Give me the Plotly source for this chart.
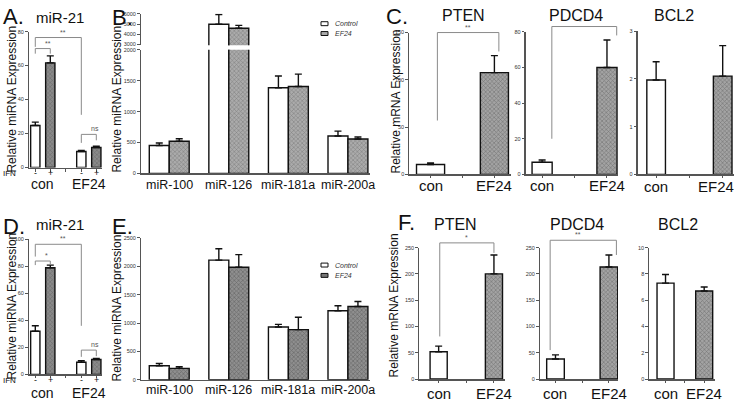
import plotly.graph_objects as go

W, H = 734, 404
FONT = "Liberation Sans, Arial, sans-serif"

# ---------------- DATA ----------------
A_ticks = ["-", "+", "-", "+"]
A_groups = ["con", "EF24"]
A_vals = [24.7, 61.6, 9.4, 11.8]
A_sem = [2.0, 4.1, 0.6, 0.8]
D_vals = [32, 79, 9, 11]
D_sem = [4, 2, 1.2, 0.8]

mirnas = ["miR-100", "miR-126", "miR-181a", "miR-200a"]
B_control = [451, 4970, 1385, 605]
B_control_sem = [42, 970, 190, 79]
B_ef24 = [520, 4590, 1406, 557]
B_ef24_sem = [42, 280, 201, 32]
E_control = [247, 2109, 931, 1218]
E_control_sem = [40, 201, 46, 87]
E_ef24 = [201, 1983, 885, 1293]
E_ef24_sem = [29, 224, 218, 86]

conds = ["con", "EF24"]
C_PTEN = [10.5, 107.6]; C_PTEN_sem = [1.5, 18]
C_PDCD4 = [6.8, 60]; C_PDCD4_sem = [1.3, 15.4]
C_BCL2 = [1.98, 2.06]; C_BCL2_sem = [0.38, 0.64]
F_PTEN = [52, 200]; F_PTEN_sem = [10.5, 36]
F_PDCD4 = [38, 213]; F_PDCD4_sem = [8, 23]
F_BCL2 = [7.3, 6.7]; F_BCL2_sem = [0.65, 0.3]

# ---------------- HELPERS ----------------
fig = go.Figure()
layout = {}
count = [0]
axinfo = {}
shapes = []
annos = []

def px(p):
    return p / W

def py(p):
    return 1 - p / H

def axes(x0, x1, ytop, ybot, xr, yr, ytv, xtv=None, showx=True, xticks="outside"):
    count[0] += 1
    n = count[0]
    xs = "" if n == 1 else str(n)
    xd = [px(x0), px(x1)]
    yd = [py(ybot), py(ytop)]
    layout["xaxis" + xs] = dict(
        domain=xd, range=xr, anchor="y" + xs, visible=showx,
        showline=True, linecolor="#555", linewidth=1.5, ticks=xticks, ticklen=2.5,
        tickcolor="#555", tickwidth=1, showgrid=False, zeroline=False,
        tickvals=xtv if xtv is not None else [], showticklabels=False, fixedrange=True)
    layout["yaxis" + xs] = dict(
        domain=yd, range=yr, anchor="x" + xs,
        showline=True, linecolor="#555", linewidth=1.5, ticks="outside", ticklen=2.5,
        tickcolor="#555", tickwidth=1, showgrid=False, zeroline=False,
        tickvals=ytv, tickfont=dict(size=5.5, color="#333", family=FONT), fixedrange=True)
    axinfo["x" + xs] = (xd, xr)
    axinfo["y" + xs] = (yd, yr)
    return "x" + xs, "y" + xs

def to_paper(ax, v):
    (d0, d1), (r0, r1) = axinfo[ax]
    return d0 + (v - r0) / (r1 - r0) * (d1 - d0)

def bars(xa, ya, xs, vals, sem, colors, width, offset=None, pat=None):
    n = len(vals)
    fig.add_trace(go.Bar(
        x=xs, y=vals, xaxis=xa, yaxis=ya, width=width, offset=offset,
        marker=dict(color=colors, line=dict(color="#111", width=1.4),
                    pattern=pat if pat else None),
        error_y=dict(type="data", array=sem, arrayminus=[0] * n, symmetric=False,
                     color="#111", thickness=1.4, width=3.5),
        showlegend=False, hoverinfo="skip"))

def xlabel(xa, xv, ypx, t, size, anchor="center"):
    annos.append(dict(xref="paper", yref="paper", x=to_paper(xa, xv), y=py(ypx), text=t,
                      showarrow=False, xanchor=anchor, yanchor="middle",
                      font=dict(size=size, color="#111", family=FONT)))

def bracket(xa, ya, xl, xr, ytop, yl, yr, label):
    c = "#8a8a8a"
    XL, XR = to_paper(xa, xl), to_paper(xa, xr)
    YT, YL, YR = to_paper(ya, ytop), to_paper(ya, yl), to_paper(ya, yr)
    for (x0, y0, x1, y1) in [(XL, YL, XL, YT), (XL, YT, XR, YT), (XR, YT, XR, YR)]:
        shapes.append(dict(type="line", xref="paper", yref="paper", x0=x0, y0=y0, x1=x1, y1=y1,
                           line=dict(color=c, width=1)))
    annos.append(dict(xref="paper", yref="paper", x=(XL + XR) / 2, y=YT, text=label, showarrow=False,
                      yanchor="bottom", font=dict(size=7, color="#555", family=FONT)))

def text(x, y, t, size, anchor="center", angle=0, italic=False, color="#111"):
    annos.append(dict(xref="paper", yref="paper", x=px(x), y=py(y), text=t, showarrow=False,
                      xanchor=anchor, yanchor="middle", textangle=angle,
                      font=dict(size=size, color=color, family=FONT,
                                style="italic" if italic else "normal")))

PAT = dict(shape="x", fgcolor="#555", size=3, solidity=0.35)
PAT_DARK = dict(shape="x", fgcolor="#444", size=3, solidity=0.4)

# ---------------- Panel A / D ----------------
posAD = [0, 1, 3.07, 4.07]
for (vals, sem, ytop, ybot, ymax, ytv, brk, yoff, grp_y) in [
        (A_vals, A_sem, 29, 167, 80, [0, 20, 40, 60, 80],
         [(0, 1, 70, 67, 67, "**"), (0, 3.07, 76.5, 71, 31, "**"), (3.07, 4.07, 19.5, 14.5, 16, "ns")], 0, 184),
        (D_vals, D_sem, 240, 377, 100, [0, 20, 40, 60, 80, 100],
         [(0, 1, 84, 81, 81, "*"), (0, 3.07, 96.4, 87.3, 36, "**"), (3.07, 4.07, 18, 13, 13.5, "ns")], 210, 396)]:
    xa, ya = axes(29, 102, ytop, ybot, [-0.42, 4.45], [0, ymax], ytv,
                  xtv=[0, 1, 2.03, 3.07, 4.07])
    bars(xa, ya, posAD, vals, sem, ["white", "#8a8a8a", "white", "#8a8a8a"], 0.62,
         pat=dict(shape=["", "x", "", "x"], fgcolor="#555", size=3, solidity=0.3))
    for b in brk:
        bracket(xa, ya, *b)
    for p, t in zip(posAD, A_ticks):
        xlabel(xa, p, ybot + 6, t, 9)
    text(1, ybot + 6, "IFN", 8, anchor="left")
    xlabel(xa, 0.5, grp_y, A_groups[0], 14)
    xlabel(xa, 3.57, grp_y, A_groups[1], 14)
    text(12, 98 + yoff, "Relative miRNA Expression", 12, angle=-90)
    text(60, 15 + yoff, "miR-21", 15)

text(1, 14, "A.", 22, anchor="left")
text(1, 227, "D.", 22, anchor="left")

# ---------------- Panel B (broken axis) ----------------
xrB = [-0.474, 3.37]
cats = [0, 1, 2, 3]
xa, ya = axes(141, 370, 11, 43, xrB, [2900, 6000], [3000, 4000, 5000, 6000], showx=False)
bars(xa, ya, cats, B_control, B_control_sem, "white", 0.335, offset=-0.335)
bars(xa, ya, cats, B_ef24, B_ef24_sem, "#ababab", 0.335, offset=0, pat=PAT)
xa, ya = axes(141, 370, 47.5, 173, xrB, [0, 2000], [0, 500, 1000, 1500, 2000], xticks="")
bars(xa, ya, cats, B_control, [s if v < 2000 else 0 for v, s in zip(B_control, B_control_sem)],
     "white", 0.335, offset=-0.335)
bars(xa, ya, cats, B_ef24, [s if v < 2000 else 0 for v, s in zip(B_ef24, B_ef24_sem)],
     "#ababab", 0.335, offset=0, pat=PAT)
for c, m in zip(cats, mirnas):
    xlabel(xa, c, 185, m, 12.5)
text(117, 98, "Relative miRNA Expression", 12, angle=-90)
text(110, 15, "B.", 22, anchor="left")

# ---------------- Panel E ----------------
xa, ya = axes(141, 370, 238.5, 382.5, xrB, [0, 2500], [0, 500, 1000, 1500, 2000, 2500], xticks="")
bars(xa, ya, cats, E_control, E_control_sem, "white", 0.335, offset=-0.335)
bars(xa, ya, cats, E_ef24, E_ef24_sem, "#8f8f8f", 0.335, offset=0, pat=PAT_DARK)
for c, m in zip(cats, mirnas):
    xlabel(xa, c, 393, m, 12.5)
text(117, 310, "Relative miRNA Expression", 12, angle=-90)
text(110, 227, "E.", 22, anchor="left")

# legends
for (y1, y2, darkc) in [(21, 31, "#ababab"), (266, 276.5, "#777777")]:
    shapes.append(dict(type="rect", xref="paper", yref="paper", x0=px(321), x1=px(328),
                       y0=py(y1 + 2), y1=py(y1 - 2), line=dict(color="#111", width=1), fillcolor="white"))
    shapes.append(dict(type="rect", xref="paper", yref="paper", x0=px(321), x1=px(328),
                       y0=py(y2 + 2), y1=py(y2 - 2), line=dict(color="#111", width=1), fillcolor=darkc))
    text(333, y1, "Control", 7, anchor="left", italic=True, color="#333")
    text(333, y2, "EF24", 7, anchor="left", italic=True, color="#333")

# ---------------- Panels C / F ----------------
def gene_panel(x0, x1, ytop, ybot, xr, yr, ytv, vals, sem, width, lab_y, brk=None, shift_last=0):
    xa, ya = axes(x0, x1, ytop, ybot, xr, yr, ytv, xtv=[0, 0.5, 1])
    bars(xa, ya, [0, 1], vals, sem, ["white", "#a3a3a3"], width,
         pat=dict(shape=["", "x"], fgcolor="#555", size=3, solidity=0.35))
    xlabel(xa, 0, lab_y, conds[0], 15)
    xlabel(xa, 1 + shift_last, lab_y, conds[1], 15)
    if brk:
        bracket(xa, ya, *brk)

gene_panel(409.3, 511, 30, 174, [-0.333, 1.26], [0, 150], [0, 50, 100, 150],
           C_PTEN, C_PTEN_sem, 0.44, 185, (0.107, 1.07, 150, 57, 130, "**"))
gene_panel(525.7, 618, 29.3, 174, [-0.253, 1.17], [0, 80], [0, 20, 40, 60, 80],
           C_PDCD4, C_PDCD4_sem, 0.31, 185, (0.15, 1.15, 83, 20, 78, "*"))
gene_panel(637.7, 734, 28.7, 174, [-0.277, 1.17], [0, 3], [0, 1, 2, 3],
           C_BCL2, C_BCL2_sem, 0.28, 186, shift_last=-0.1)
gene_panel(419.3, 505, 248.3, 381.7, [-0.35, 1.2], [0, 250], [0, 50, 100, 150, 200, 250],
           F_PTEN, F_PTEN_sem, 0.31, 396, (0.02, 1.0, 259, 81, 240, "*"))
gene_panel(540, 618, 248.3, 381.7, [-0.29, 1.17], [0, 250], [0, 50, 100, 150, 200, 250],
           F_PDCD4, F_PDCD4_sem, 0.33, 396, (-0.1, 1.14, 264, 55, 236, "**"))
gene_panel(649.3, 715, 248.3, 381.7, [-0.42, 1.28], [0, 10], [0, 2, 4, 6, 8, 10],
           F_BCL2, F_BCL2_sem, 0.44, 396)

text(396, 100, "Relative mRNA Expression", 12, angle=-90)
text(394, 307, "Relative mRNA Expression", 12, angle=-90)
text(384, 14, "C.", 22, anchor="left")
text(396, 223, "F.", 22, anchor="left")
for (x, y, t) in [(463, 13, "PTEN"), (576, 13, "PDCD4"), (674, 13, "BCL2"),
                  (455, 225, "PTEN"), (577, 225, "PDCD4"), (678, 225, "BCL2")]:
    text(x, y, t, 16)

layout.update(dict(width=W, height=H, margin=dict(l=0, r=0, t=0, b=0),
                   paper_bgcolor="white", plot_bgcolor="white", barmode="overlay",
                   shapes=shapes, annotations=annos, showlegend=False,
                   font=dict(family=FONT)))
fig.update_layout(**layout)
fig.write_html("out.html", config={"staticPlot": True},
               post_script="document.body.style.margin='0';document.body.style.overflow='hidden';")
